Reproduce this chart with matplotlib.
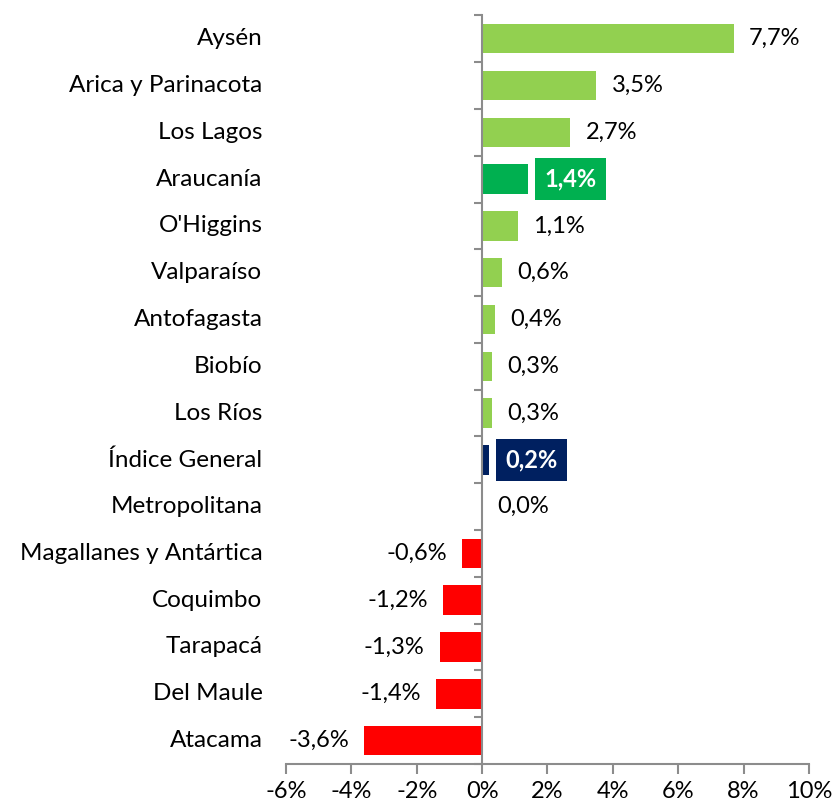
import numpy as np
import matplotlib.pyplot as plt
from matplotlib.transforms import blended_transform_factory

plt.rcParams['font.family'] = ['Lato', 'DejaVu Sans']

regions = ['Aysén', 'Arica y Parinacota', 'Los Lagos', 'Araucanía', "O'Higgins",
           'Valparaíso', 'Antofagasta', 'Biobío', 'Los Ríos', 'Índice General',
           'Metropolitana', 'Magallanes y Antártica', 'Coquimbo', 'Tarapacá',
           'Del Maule', 'Atacama']
values = [7.7, 3.5, 2.7, 1.4, 1.1, 0.6, 0.4, 0.3, 0.3, 0.2, 0.0,
          -0.6, -1.2, -1.3, -1.4, -3.6]
highlight = {'Araucanía': '#00B050', 'Índice General': '#002060'}
xticks = [-6, -4, -2, 0, 2, 4, 6, 8, 10]

gray = '#8C8C8C'
fig = plt.figure(figsize=(8.35, 8.08), dpi=100)
ax = fig.add_axes([0.3425, 0.0545, 0.6263, 0.9265])

n = len(regions)
y = np.arange(n)[::-1]
colors = []
for r, v in zip(regions, values):
    if r in highlight:
        colors.append(highlight[r])
    elif v < 0:
        colors.append('#FF0000')
    else:
        colors.append('#92D050')

ax.barh(y, values, height=0.63, color=colors, zorder=2)

ax.set_xlim(-6, 10)
ax.set_ylim(-0.5, n - 0.5)
ax.set_xticks(xticks)
ax.set_xticklabels([f'{t}%' for t in xticks], fontsize=17)
ax.tick_params(axis='x', length=7, width=1.5, color=gray, pad=5)

ax.spines['left'].set_position(('data', 0))
ax.spines['left'].set_color(gray)
ax.spines['left'].set_linewidth(1.5)
ax.spines['bottom'].set_color(gray)
ax.spines['bottom'].set_linewidth(1.5)
ax.spines['top'].set_visible(False)
ax.spines['right'].set_visible(False)
ax.set_yticks(np.arange(n + 1) - 0.5)
ax.set_yticklabels([])
ax.tick_params(axis='y', length=6, width=1.5, color=gray)

tr = blended_transform_factory(ax.transAxes, ax.transData)
for yi, r in zip(y, regions):
    ax.text(-0.045, yi, r, transform=tr, ha='right', va='center', fontsize=17.5)

for yi, r, v in zip(y, regions, values):
    txt = f'{v:.1f}%'.replace('.', ',')
    if v < 0:
        off, ha = -11, 'right'
    else:
        off, ha = 11, 'left'
    if r in highlight:
        ax.annotate(txt, (v, yi), xytext=(off + 1, 0), textcoords='offset points',
                    ha=ha, va='center', fontsize=17, color='white', fontweight='bold',
                    bbox=dict(boxstyle='square,pad=0.4', fc=highlight[r], ec='none'))
    else:
        ax.annotate(txt, (v, yi), xytext=(off, 0), textcoords='offset points',
                    ha=ha, va='center', fontsize=17)

fig.savefig('out.png', dpi=100)
